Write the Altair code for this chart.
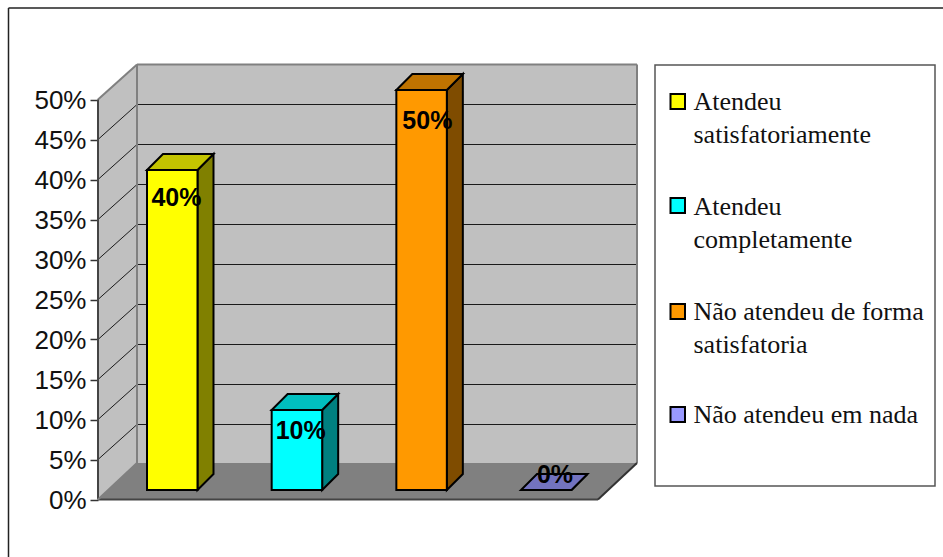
import altair as alt
import pandas as pd

# Chart values
categories = ["Atendeu satisfatoriamente", "Atendeu completamente",
              "Não atendeu de forma satisfatoria", "Não atendeu em nada"]
values = [40, 10, 50, 0]
legend_lines = [["Atendeu", "satisfatoriamente"], ["Atendeu", "completamente"],
                ["Não atendeu de forma", "satisfatoria"], ["Não atendeu em nada"]]
front_colors = ["#FFFF00", "#00FFFF", "#FF9900", "#9999FF"]
side_colors = ["#808000", "#008080", "#7F4C00", "#4C4C7F"]
top_colors = ["#C4C400", "#00BFBF", "#BF7300", "#7373BF"]
axis_ticks = list(range(0, 55, 5))

# Layout of the pseudo-3D box, in canvas pixels
W, H = 943, 557
LEFT = 98
ZERO_PX = 499.5
PX_PER_PCT = 8.0
DEPTH_X, DEPTH_Y = 39, 35
FLOOR_DEPTH_Y = 36.5
FLOOR_W = 500
BAR_W, BAR_DEPTH = 50.5, 16
BAR_START, BAR_STEP = 147, 124.67
BAR_LIFT = 9.5
LABEL_DX = [29.4, 29, 31, 34]
LABEL_DY = [35.7, 29, 39, -7]
LEGEND_BOX = (655, 935, 65, 486)
LEGEND_SWATCH_TOP = [94, 198, 304, 407]
LEGEND_BASE = [110, 215, 320, 423.3]
LEGEND_LEADING = 32.5


def pct(px):
    """Canvas y pixel expressed on the percent scale."""
    return (ZERO_PX - px) / PX_PER_PCT


dy_pct = DEPTH_Y / PX_PER_PCT
floor_pct = FLOOR_DEPTH_Y / PX_PER_PCT
x_scale = alt.Scale(domain=[LEFT, W], nice=False, zero=False)
y_scale = alt.Scale(domain=[pct(H), pct(0)], nice=False, zero=False)
X = alt.X("x:Q", scale=x_scale, axis=None)
Y = alt.Y("y:Q", scale=y_scale, title=None)
X2, Y2 = alt.X2("x2:Q"), alt.Y2("y2:Q")
FILL = alt.Color("fill:N", scale=None)

# Walls and floor
left_wall = pd.DataFrame({"x": [LEFT, LEFT + DEPTH_X], "y": [0, dy_pct], "y2": [50, 50 + dy_pct]})
back_wall = pd.DataFrame({"x": [LEFT + DEPTH_X], "x2": [LEFT + DEPTH_X + FLOOR_W],
                          "y": [dy_pct], "y2": [50 + dy_pct]})
floor = pd.DataFrame({"y": [0, floor_pct], "x": [LEFT, LEFT + DEPTH_X],
                      "x2": [LEFT + FLOOR_W, LEFT + DEPTH_X + FLOOR_W]})

grid = [t for t in axis_ticks if 0 < t < 50]
back_grid = pd.DataFrame({"x": LEFT + DEPTH_X, "x2": LEFT + DEPTH_X + FLOOR_W,
                          "y": [t + dy_pct for t in grid]})
side_grid = pd.DataFrame({"x": LEFT, "x2": LEFT + DEPTH_X, "y": grid,
                          "y2": [t + dy_pct for t in grid]})

layers = [
    # The only layer that configures the percent axis
    alt.Chart(left_wall).mark_area(color="#C0C0C0", orient="vertical").encode(
        x=X,
        y=alt.Y("y:Q", scale=y_scale, axis=alt.Axis(
            values=axis_ticks, labelExpr="datum.value + '%'", title=None, grid=False,
            domain=False, tickSize=8, tickColor="#333333", tickWidth=1.5, labelPadding=4,
            labelOffset=1, labelFont="Liberation Sans", labelFontSize=26, labelColor="#111111",
            labelOverlap=False, labelFlush=False, labelBound=False)),
        y2=Y2),
    alt.Chart(back_wall).mark_rect(color="#C0C0C0").encode(x=X, x2=X2, y=Y, y2=Y2),
    alt.Chart(back_grid).mark_rule(color="#1a1a1a", strokeWidth=1).encode(x=X, x2=X2, y=Y),
    alt.Chart(side_grid).mark_rule(color="#1a1a1a", strokeWidth=1).encode(x=X, x2=X2, y=Y, y2=Y2),
    alt.Chart(floor).mark_area(color="#808080", orient="horizontal").encode(x=X, x2=X2, y=Y),
]

# Grey frame of the walls
edges = pd.DataFrame([
    {"x": LEFT, "x2": LEFT + DEPTH_X, "y": 50, "y2": 50 + dy_pct, "c": "#808080"},
    {"x": LEFT + DEPTH_X, "x2": LEFT + DEPTH_X + FLOOR_W, "y": 50 + dy_pct, "y2": 50 + dy_pct, "c": "#808080"},
    {"x": LEFT + DEPTH_X, "x2": LEFT + DEPTH_X, "y": floor_pct, "y2": 50 + dy_pct, "c": "#808080"},
    {"x": LEFT + DEPTH_X + FLOOR_W, "x2": LEFT + DEPTH_X + FLOOR_W, "y": floor_pct, "y2": 50 + dy_pct, "c": "#808080"},
    {"x": LEFT, "x2": LEFT, "y": 0, "y2": 50, "c": "#444444"},
    {"x": LEFT, "x2": LEFT + FLOOR_W, "y": 0, "y2": 0, "c": "#444444"},
    {"x": LEFT + FLOOR_W, "x2": LEFT + DEPTH_X + FLOOR_W, "y": 0, "y2": floor_pct, "c": "#333333"},
    {"x": LEFT, "x2": LEFT + DEPTH_X, "y": 0, "y2": floor_pct, "c": "#808080"},
])
layers.append(alt.Chart(edges).mark_rule(strokeWidth=2).encode(
    x=X, x2=X2, y=Y, y2=Y2, color=alt.Color("c:N", scale=None)))

# Bars: right side, top and front faces plus the value labels
lift = BAR_LIFT / PX_PER_PCT
bd_pct = BAR_DEPTH / PX_PER_PCT
side_rows, top_rows, front_rows, label_rows = [], [], [], []
for i, v in enumerate(values):
    x0 = BAR_START + BAR_STEP * i
    x1 = x0 + BAR_W
    side_rows += [
        {"cat": i, "fill": side_colors[i], "x": x1, "y": lift, "y2": lift + v},
        {"cat": i, "fill": side_colors[i], "x": x1 + BAR_DEPTH, "y": lift + bd_pct, "y2": lift + v + bd_pct},
    ]
    top_rows += [
        {"cat": i, "fill": top_colors[i], "y": lift + v, "x": x0, "x2": x1},
        {"cat": i, "fill": top_colors[i], "y": lift + v + bd_pct, "x": x0 + BAR_DEPTH, "x2": x1 + BAR_DEPTH},
    ]
    front_rows.append({"fill": front_colors[i], "x": x0, "x2": x1, "y": lift, "y2": lift + v})
    label_rows.append({"x": x0 + LABEL_DX[i], "y": lift + v - LABEL_DY[i] / PX_PER_PCT, "label": f"{v}%"})

layers += [
    alt.Chart(pd.DataFrame(side_rows)).mark_area(stroke="black", strokeWidth=2, orient="vertical").encode(
        x=X, y=Y, y2=Y2, color=FILL, detail="cat:N"),
    alt.Chart(pd.DataFrame(top_rows)).mark_area(stroke="black", strokeWidth=2, orient="horizontal").encode(
        x=X, x2=X2, y=Y, color=FILL, detail="cat:N"),
    alt.Chart(pd.DataFrame(front_rows[:3])).mark_rect(stroke="black", strokeWidth=2).encode(
        x=X, x2=X2, y=Y, y2=Y2, color=FILL),
    alt.Chart(pd.DataFrame(label_rows)).mark_text(
        font="Liberation Sans", fontWeight="bold", fontSize=25, color="black",
        align="center", baseline="alphabetic").encode(x=X, y=Y, text="label:N"),
]

# Legend box, swatches and wrapped entries
lx0, lx1, ly0, ly1 = LEGEND_BOX
layers.append(alt.Chart(pd.DataFrame([{"x": lx0, "x2": lx1, "y": pct(ly0), "y2": pct(ly1)}])).mark_rect(
    fill="white", stroke="#555555", strokeWidth=1.5).encode(x=X, x2=X2, y=Y, y2=Y2))
swatches = pd.DataFrame([
    {"fill": front_colors[i], "x": 670.5, "x2": 685,
     "y": pct(top), "y2": pct(top + 15)} for i, top in enumerate(LEGEND_SWATCH_TOP)])
layers.append(alt.Chart(swatches).mark_rect(stroke="black", strokeWidth=2).encode(
    x=X, x2=X2, y=Y, y2=Y2, color=FILL))
legend_rows = []
for i, lines in enumerate(legend_lines):
    for j, line in enumerate(lines):
        legend_rows.append({"x": 693.5, "y": pct(LEGEND_BASE[i] + j * LEGEND_LEADING), "label": line})
layers.append(alt.Chart(pd.DataFrame(legend_rows)).mark_text(
    font="Liberation Serif", fontSize=26, color="#111111", align="left", baseline="alphabetic"
).encode(x=X, y=Y, text="label:N"))

# Outer frame runs along the top and left of the canvas
frame = pd.DataFrame([
    {"x": 8.5, "x2": W, "y": pct(8), "y2": pct(8)},
    {"x": 8.5, "x2": 8.5, "y": pct(8), "y2": pct(H)},
])
layers.append(alt.Chart(frame).mark_rule(color="#222222", strokeWidth=1.5).encode(x=X, x2=X2, y=Y, y2=Y2))

chart = alt.layer(*layers).properties(
    width=W - LEFT, height=H,
    padding={"left": LEFT, "top": 0, "right": 0, "bottom": 0},
    autosize=alt.AutoSizeParams(type="none"),
    background="white",
).configure_view(stroke=None)

chart.save("out.html", embed_options={"renderer": "svg", "actions": False})
